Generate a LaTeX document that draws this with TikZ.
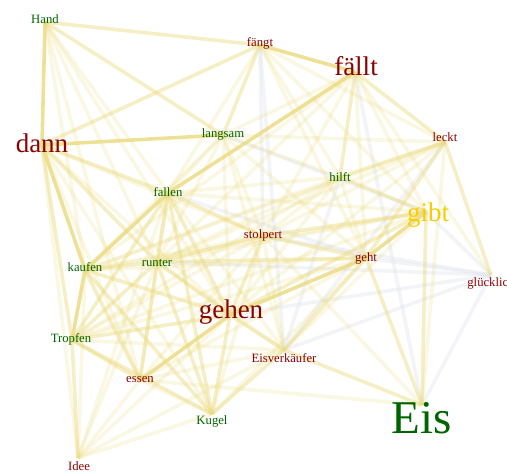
\documentclass[tikz,border=0pt]{standalone}
\usepackage{fontspec}
\setmainfont{Liberation Serif}
\definecolor{ecol}{RGB}{234,218,125}
\definecolor{gcol}{RGB}{226,230,238}
\definecolor{wred}{RGB}{139,0,0}
\definecolor{wgreen}{RGB}{0,100,0}
\definecolor{wgold}{RGB}{250,205,0}
\begin{document}
\begin{tikzpicture}[x=1pt,y=-1pt,
  edgeS/.style={draw=ecol, line width=3.6pt, opacity=0.8},
  edgeM/.style={draw=ecol, line width=3.6pt, opacity=0.45},
  edgeF/.style={draw=ecol, line width=3.6pt, opacity=0.22},
  edgeG/.style={draw=gcol, line width=3.6pt, opacity=0.45},
  word/.style={anchor=base, inner sep=0pt, font=\fontsize{12.7}{14}\selectfont},
  bigword/.style={anchor=base, inner sep=0pt, font=\fontsize{27}{30}\selectfont},
  hugeword/.style={anchor=base, inner sep=0pt, font=\fontsize{47}{50}\selectfont}]
\useasboundingbox (0,0) rectangle (507,472);
\clip (0,0) rectangle (507,472);
% edge end points
\coordinate (H) at (45,22);
\coordinate (Fg) at (260,45);
\coordinate (Fa) at (355,72);
\coordinate (D) at (42,145);
\coordinate (L) at (223,135);
\coordinate (Le) at (445,142);
\coordinate (Fl) at (168,193);
\coordinate (Hi) at (340,177);
\coordinate (Gi) at (426,212);
\coordinate (St) at (263,236);
\coordinate (Ge) at (366,258);
\coordinate (Gl) at (491,275);
\coordinate (K) at (85,270);
\coordinate (R) at (157,262);
\coordinate (Gn) at (230,315);
\coordinate (T) at (72,340);
\coordinate (Ev) at (284,350);
\coordinate (Es) at (140,380);
\coordinate (Ku) at (212,414);
\coordinate (E) at (422,405);
\coordinate (I) at (78,458);
% gray edges
\foreach \a/\b in {Fg/St,Fa/E,Gi/Gl,Ge/Gl,Gl/E,Gl/Ev,Gl/Gn,Gl/R,Gl/St,Le/Ev,Hi/Ev,L/Gi,Fl/Ge,Fg/Ev}
  \draw[edgeG] (\a) -- (\b);
% faint edges
\foreach \a/\b in {H/Fl,H/R,H/Es,H/K,H/Gn,Fg/Fl,Fg/Hi,Fg/Ge,Fg/Gi,Fg/Le,
  Fa/St,Fa/Ge,Fa/Gi,Fa/Gl,Fa/K,Fa/R,Fa/L,L/Le,L/Hi,L/St,L/Ge,L/R,L/K,L/Gn,L/Ev,L/Fl,
  D/St,D/Gn,D/Es,D/Ku,D/I,Le/E,Le/St,Le/R,Le/Gn,Le/K,Hi/Fl,Hi/R,Hi/St,Hi/Ge,Hi/Gn,Hi/K,Hi/T,
  Gi/Fl,Gi/R,Gi/T,Gi/K,Gi/Ev,St/K,St/Ev,St/Ku,St/Es,St/T,St/E,Ge/K,Ge/T,Ge/Es,Ge/Ku,
  K/I,R/I,R/Ev,Gn/I,T/Ev,Ev/Es,Ev/Fl,Ev/I,Es/Ku,Es/I,Es/E,Es/Fl,Ku/I,I/Fl}
  \draw[edgeF] (\a) -- (\b);
% medium edges
\foreach \a/\b in {H/Fg,H/L,D/Fg,D/Fl,Fg/L,Fa/Hi,Fa/Le,Le/Gl,Le/Hi,Le/Ge,Hi/Gi,Gi/E,Gi/St,Gi/Gn,
  Ge/E,Ge/Ev,Ge/R,Ge/St,St/Fl,St/R,St/Gn,R/Fl,R/K,R/T,R/Gn,R/Es,R/Ku,Gn/Ku,Gn/K,Gn/T,Gn/Fl,
  Gn/Ev,Ev/Ku,Ev/E,T/I,T/Es,T/Ku,K/Es,K/Ku,Fl/Ku,Fl/T,D/T,D/R}
  \draw[edgeM] (\a) -- (\b);
% strong edges
\foreach \a/\b in {H/D,Fg/Fa,Fa/Fl,D/L,D/K,Fl/K,K/T,Gn/Ge,Ge/Gi,Gn/Es}
  \draw[edgeS] (\a) -- (\b);
% words
\node[word, text=wgreen] (tHand) at (45,23) {Hand};
\node[word, text=wred] (tFg) at (260,46) {fängt};
\node[bigword, text=wred] (tFa) at (356,75) {fällt};
\node[bigword, text=wred] (tD) at (42,152) {dann};
\node[word, text=wgreen] (tL) at (223,137) {langsam};
\node[word, text=wred] (tLe) at (445,141) {leckt};
\node[word, text=wgreen] (tFl) at (168,196) {fallen};
\node[word, text=wgreen] (tHi) at (340,181) {hilft};
\node[bigword, text=wgold] (tGi) at (428,221) {gibt};
\node[word, text=wred] (tSt) at (263,238) {stolpert};
\node[word, text=wred] (tGe) at (366,261) {geht};
\node[word, text=wred] (tGl) at (491,286) {glücklich};
\node[word, text=wgreen] (tK) at (85,271) {kaufen};
\node[word, text=wgreen] (tR) at (157,266) {runter};
\node[bigword, text=wred] (tGn) at (231,318) {gehen};
\node[word, text=wgreen] (tT) at (71,342) {Tropfen};
\node[word, text=wred] (tEv) at (284,362) {Eisverkäufer};
\node[word, text=wred] (tEs) at (140,382) {essen};
\node[word, text=wgreen] (tKu) at (212,424) {Kugel};
\node[hugeword, text=wgreen] (tE) at (422,433) {Eis};
\node[word, text=wred] (tI) at (79,470) {Idee};
\end{tikzpicture}
\end{document}
